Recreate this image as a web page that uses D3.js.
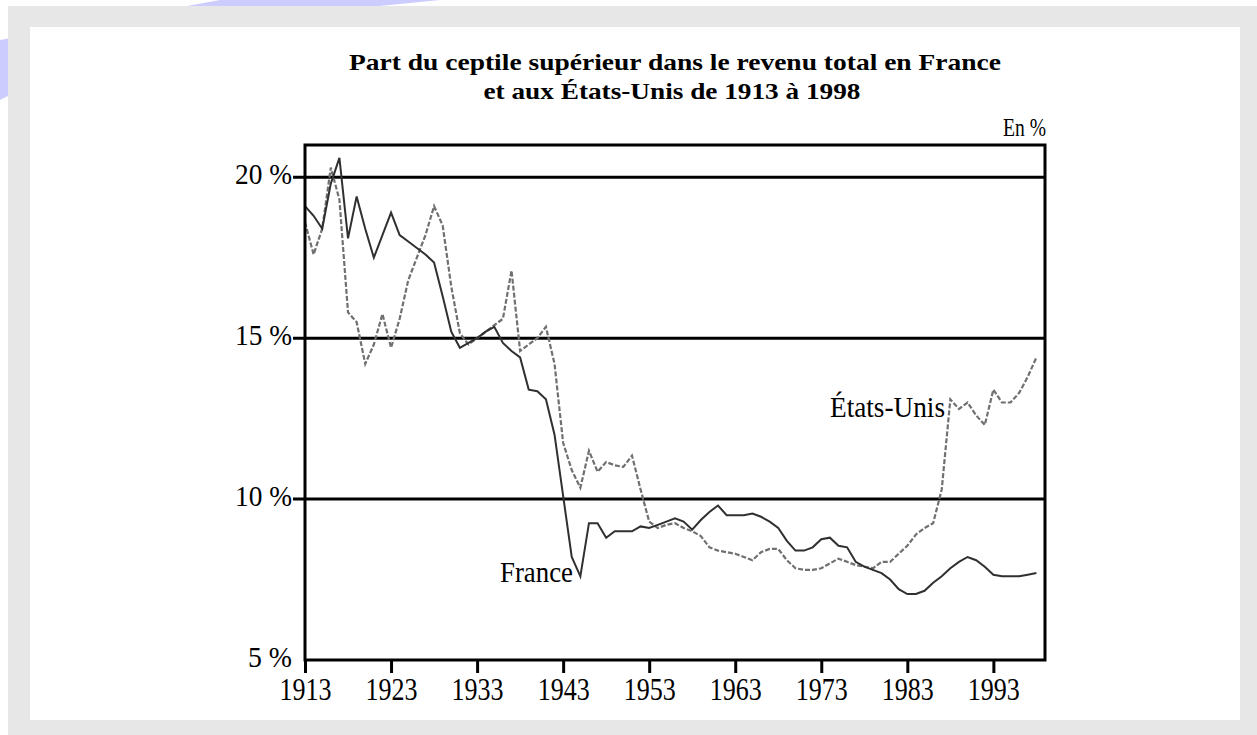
<!DOCTYPE html>
<html>
<head>
<meta charset="utf-8">
<script src="https://cdn.jsdelivr.net/npm/d3@7"></script>
<style>
  body { margin: 0; background: #ffffff; }
  text { font-family: "Liberation Serif", "Times New Roman", serif; fill: #000; }
</style>
</head>
<body>
<script>
var svgWidth = 1257
var svgHeight = 735

// data, one value per year from 1913
var firstYear = 1913
var franceValues = [
  19.1, 18.8, 18.4, 19.8, 20.6, 18.1, 19.4,           // 1913-1919
  18.4, 17.5, 18.2, 18.9, 18.2, 18.0, 17.8, 17.6, 17.35, 16.3,   // 1920s
  15.2, 14.7, 14.85, 15.0, 15.2, 15.35, 14.85, 14.6, 14.4, 13.4, // 1930s
  13.35, 13.1, 12.0, 10.1, 8.2, 7.6, 9.25, 9.25, 8.8, 9.0,       // 1940s
  9.0, 9.0, 9.15, 9.1, 9.2, 9.3, 9.4, 9.3, 9.05, 9.35,           // 1950s
  9.6, 9.8, 9.5, 9.5, 9.5, 9.55, 9.45, 9.3, 9.1, 8.7,            // 1960s
  8.4, 8.4, 8.5, 8.75, 8.8, 8.55, 8.5, 8.05, 7.9, 7.8,           // 1970s
  7.7, 7.5, 7.2, 7.05, 7.05, 7.15, 7.4, 7.6, 7.85, 8.05,         // 1980s
  8.2, 8.1, 7.9, 7.65, 7.6, 7.6, 7.6, 7.65, 7.7                  // 1990-1998
]
var usValues = [
  18.6, 17.6, 18.4, 20.3, 19.3, 15.8, 15.5,
  14.2, 14.8, 15.75, 14.7, 15.6, 16.8, 17.5, 18.2, 19.1, 18.5,
  16.6, 15.15, 14.8, 15.0, 15.2, 15.4, 15.6, 17.1, 14.6, 14.8,
  15.0, 15.35, 14.2, 11.75, 10.9, 10.35, 11.5, 10.85, 11.15, 11.05,
  11.0, 11.35, 10.3, 9.3, 9.1, 9.2, 9.25, 9.1, 9.0, 8.85,
  8.5, 8.4, 8.35, 8.3, 8.2, 8.1, 8.35, 8.45, 8.45, 8.1,
  7.85, 7.8, 7.8, 7.85, 8.0, 8.15, 8.05, 7.95, 7.9, 7.85,
  8.05, 8.05, 8.3, 8.55, 8.9, 9.1, 9.25, 10.3, 13.1, 12.8,
  13.0, 12.6, 12.3, 13.4, 13.0, 13.0, 13.3, 13.8, 14.4
]
var yearTicks = [1913, 1923, 1933, 1943, 1953, 1963, 1973, 1983, 1993]
var percentTicks = [5, 10, 15, 20]
var gridValues = [10, 15, 20]

var titleLines = [
  'Part du ceptile supérieur dans le revenu total en France',
  'et aux États-Unis de 1913 à 1998'
]

var plotLeft = 305
var plotRight = 1045
var plotTop = 145
var plotBottom = 660

var svg = d3.select('body')
  .append('svg')
  .attr('width', svgWidth)
  .attr('height', svgHeight)

// decorative lavender shape behind the frame
svg.append('path')
  .attr('d', 'M0,40 L0,100 L140,30 L440,0 L220,0 Z')
  .attr('fill', '#ccccff')

// grey border and white page
svg.append('rect')
  .attr('x', 8).attr('y', 6)
  .attr('width', svgWidth - 8).attr('height', svgHeight - 6)
  .attr('fill', '#e7e7e7')
svg.append('rect')
  .attr('x', 30).attr('y', 27)
  .attr('width', 1210).attr('height', 693)
  .attr('fill', '#ffffff')

var x = d3.scaleLinear()
  .domain([1913, 1999])
  .range([plotLeft, plotRight])

var y = d3.scaleLinear()
  .domain([5, 21])
  .range([plotBottom, plotTop])

// title
svg.selectAll('text.title')
  .data(titleLines)
  .enter()
  .append('text')
  .attr('class', 'title')
  .attr('x', (d, i) => i == 0 ? 675 : 672)
  .attr('y', (d, i) => i == 0 ? 70 : 99)
  .attr('text-anchor', 'middle')
  .attr('font-size', 24)
  .attr('font-weight', 'bold')
  .attr('textLength', (d, i) => i == 0 ? 652 : 377)
  .attr('lengthAdjust', 'spacingAndGlyphs')
  .text(d => d)

svg.append('text')
  .attr('x', plotRight + 1)
  .attr('y', 136)
  .attr('text-anchor', 'end')
  .attr('font-size', 26)
  .attr('textLength', 43)
  .attr('lengthAdjust', 'spacingAndGlyphs')
  .text('En %')

// horizontal grid lines
svg.append('g').selectAll('line')
  .data(gridValues)
  .enter()
  .append('line')
  .attr('x1', plotLeft - 12)
  .attr('x2', plotRight)
  .attr('y1', d => y(d))
  .attr('y2', d => y(d))
  .attr('stroke', '#000')
  .attr('stroke-width', 3)

// y axis labels
var yAxis = svg.append('g')
  .attr('transform', 'translate(' + plotLeft + ',0)')
  .call(d3.axisLeft(y).tickValues(percentTicks).tickSize(0).tickPadding(13)
    .tickFormat(d => d + ' %'))
yAxis.select('.domain').remove()
yAxis.selectAll('text')
  .attr('font-family', '"Liberation Serif", serif')
  .attr('font-size', 30)
  .attr('dy', '0.22em')
  .attr('textLength', d => d < 10 ? 44 : 57)
  .attr('lengthAdjust', 'spacingAndGlyphs')
  .attr('fill', '#000')

// x axis
var xAxis = svg.append('g')
  .attr('transform', 'translate(0,' + plotBottom + ')')
  .call(d3.axisBottom(x).tickValues(yearTicks).tickSize(13).tickPadding(5)
    .tickFormat(d3.format('d')))
xAxis.select('.domain').remove()
xAxis.selectAll('line')
  .attr('stroke', '#000')
  .attr('stroke-width', 3)
xAxis.selectAll('text')
  .attr('font-family', '"Liberation Serif", serif')
  .attr('font-size', 31)
  .attr('textLength', 52)
  .attr('lengthAdjust', 'spacingAndGlyphs')
  .attr('fill', '#000')

// series
var line = d3.line()
  .x((d, i) => x(firstYear + i))
  .y(d => y(d))

svg.append('path')
  .datum(usValues)
  .attr('d', line)
  .attr('fill', 'none')
  .attr('stroke', '#707070')
  .attr('stroke-width', 2.2)
  .attr('stroke-dasharray', '5,2')

svg.append('path')
  .datum(franceValues)
  .attr('d', line)
  .attr('fill', 'none')
  .attr('stroke', '#303030')
  .attr('stroke-width', 2)

// frame
svg.append('rect')
  .attr('x', plotLeft)
  .attr('y', plotTop)
  .attr('width', plotRight - plotLeft)
  .attr('height', plotBottom - plotTop)
  .attr('fill', 'none')
  .attr('stroke', '#000')
  .attr('stroke-width', 3)

// series labels
svg.append('text')
  .attr('x', 500)
  .attr('y', 582)
  .attr('font-size', 29)
  .attr('textLength', 73)
  .attr('lengthAdjust', 'spacingAndGlyphs')
  .text('France')

svg.append('text')
  .attr('x', 830)
  .attr('y', 417)
  .attr('font-size', 29)
  .attr('textLength', 115)
  .attr('lengthAdjust', 'spacingAndGlyphs')
  .text('États-Unis')
</script>
</body>
</html>
